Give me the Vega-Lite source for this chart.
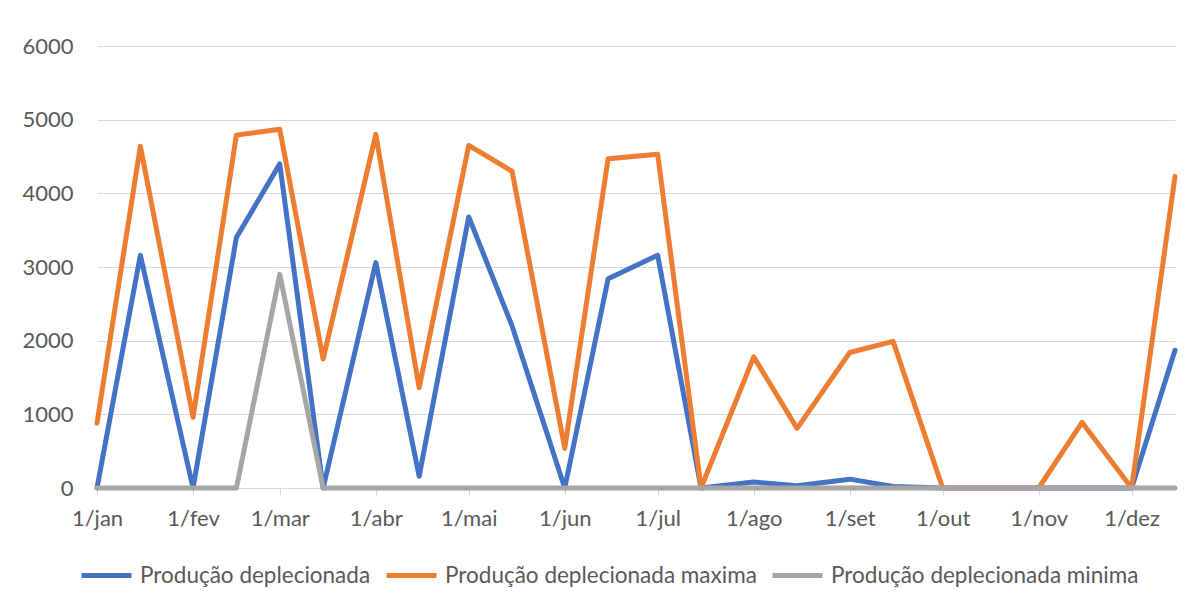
{
  "$schema": "https://vega.github.io/schema/vega-lite/v6.json",
  "autosize": {"type": "none"},
  "width": 1078,
  "height": 442,
  "padding": {"left": 97, "top": 46, "right": 16, "bottom": 113},
  "background": "white",
  "config": {
    "view": {"stroke": null},
    "font": "Lato",
    "axis": {"labelFont": "Lato", "labelFontSize": 22, "labelColor": "#595959"},
    "legend": {"labelFont": "Lato", "labelFontSize": 22.5, "labelColor": "#595959", "labelLimit": 0}
  },
  "data": {
    "values": [
      {"date": "2021-01-01", "serie": "Produção deplecionada", "valor": 0},
      {"date": "2021-01-15", "serie": "Produção deplecionada", "valor": 3160},
      {"date": "2021-02-01", "serie": "Produção deplecionada", "valor": 0},
      {"date": "2021-02-15", "serie": "Produção deplecionada", "valor": 3400},
      {"date": "2021-03-01", "serie": "Produção deplecionada", "valor": 4400},
      {"date": "2021-03-15", "serie": "Produção deplecionada", "valor": 0},
      {"date": "2021-04-01", "serie": "Produção deplecionada", "valor": 3060},
      {"date": "2021-04-15", "serie": "Produção deplecionada", "valor": 160},
      {"date": "2021-05-01", "serie": "Produção deplecionada", "valor": 3680},
      {"date": "2021-05-15", "serie": "Produção deplecionada", "valor": 2200},
      {"date": "2021-06-01", "serie": "Produção deplecionada", "valor": 0},
      {"date": "2021-06-15", "serie": "Produção deplecionada", "valor": 2840},
      {"date": "2021-07-01", "serie": "Produção deplecionada", "valor": 3160},
      {"date": "2021-07-15", "serie": "Produção deplecionada", "valor": 0},
      {"date": "2021-08-01", "serie": "Produção deplecionada", "valor": 80},
      {"date": "2021-08-15", "serie": "Produção deplecionada", "valor": 30},
      {"date": "2021-09-01", "serie": "Produção deplecionada", "valor": 120},
      {"date": "2021-09-15", "serie": "Produção deplecionada", "valor": 20},
      {"date": "2021-10-01", "serie": "Produção deplecionada", "valor": 0},
      {"date": "2021-10-15", "serie": "Produção deplecionada", "valor": 0},
      {"date": "2021-11-01", "serie": "Produção deplecionada", "valor": 0},
      {"date": "2021-11-15", "serie": "Produção deplecionada", "valor": 0},
      {"date": "2021-12-01", "serie": "Produção deplecionada", "valor": 0},
      {"date": "2021-12-15", "serie": "Produção deplecionada", "valor": 1870},
      {"date": "2021-01-01", "serie": "Produção deplecionada maxima", "valor": 880},
      {"date": "2021-01-15", "serie": "Produção deplecionada maxima", "valor": 4640},
      {"date": "2021-02-01", "serie": "Produção deplecionada maxima", "valor": 960},
      {"date": "2021-02-15", "serie": "Produção deplecionada maxima", "valor": 4790},
      {"date": "2021-03-01", "serie": "Produção deplecionada maxima", "valor": 4870},
      {"date": "2021-03-15", "serie": "Produção deplecionada maxima", "valor": 1750},
      {"date": "2021-04-01", "serie": "Produção deplecionada maxima", "valor": 4800},
      {"date": "2021-04-15", "serie": "Produção deplecionada maxima", "valor": 1360},
      {"date": "2021-05-01", "serie": "Produção deplecionada maxima", "valor": 4650},
      {"date": "2021-05-15", "serie": "Produção deplecionada maxima", "valor": 4300},
      {"date": "2021-06-01", "serie": "Produção deplecionada maxima", "valor": 540},
      {"date": "2021-06-15", "serie": "Produção deplecionada maxima", "valor": 4470},
      {"date": "2021-07-01", "serie": "Produção deplecionada maxima", "valor": 4530},
      {"date": "2021-07-15", "serie": "Produção deplecionada maxima", "valor": 0},
      {"date": "2021-08-01", "serie": "Produção deplecionada maxima", "valor": 1780},
      {"date": "2021-08-15", "serie": "Produção deplecionada maxima", "valor": 810},
      {"date": "2021-09-01", "serie": "Produção deplecionada maxima", "valor": 1840},
      {"date": "2021-09-15", "serie": "Produção deplecionada maxima", "valor": 1990},
      {"date": "2021-10-01", "serie": "Produção deplecionada maxima", "valor": 0},
      {"date": "2021-10-15", "serie": "Produção deplecionada maxima", "valor": 0},
      {"date": "2021-11-01", "serie": "Produção deplecionada maxima", "valor": 0},
      {"date": "2021-11-15", "serie": "Produção deplecionada maxima", "valor": 890},
      {"date": "2021-12-01", "serie": "Produção deplecionada maxima", "valor": 0},
      {"date": "2021-12-15", "serie": "Produção deplecionada maxima", "valor": 4230},
      {"date": "2021-01-01", "serie": "Produção deplecionada minima", "valor": 0},
      {"date": "2021-01-15", "serie": "Produção deplecionada minima", "valor": 0},
      {"date": "2021-02-01", "serie": "Produção deplecionada minima", "valor": 0},
      {"date": "2021-02-15", "serie": "Produção deplecionada minima", "valor": 0},
      {"date": "2021-03-01", "serie": "Produção deplecionada minima", "valor": 2900},
      {"date": "2021-03-15", "serie": "Produção deplecionada minima", "valor": 0},
      {"date": "2021-04-01", "serie": "Produção deplecionada minima", "valor": 0},
      {"date": "2021-04-15", "serie": "Produção deplecionada minima", "valor": 0},
      {"date": "2021-05-01", "serie": "Produção deplecionada minima", "valor": 0},
      {"date": "2021-05-15", "serie": "Produção deplecionada minima", "valor": 0},
      {"date": "2021-06-01", "serie": "Produção deplecionada minima", "valor": 0},
      {"date": "2021-06-15", "serie": "Produção deplecionada minima", "valor": 0},
      {"date": "2021-07-01", "serie": "Produção deplecionada minima", "valor": 0},
      {"date": "2021-07-15", "serie": "Produção deplecionada minima", "valor": 0},
      {"date": "2021-08-01", "serie": "Produção deplecionada minima", "valor": 0},
      {"date": "2021-08-15", "serie": "Produção deplecionada minima", "valor": 0},
      {"date": "2021-09-01", "serie": "Produção deplecionada minima", "valor": 0},
      {"date": "2021-09-15", "serie": "Produção deplecionada minima", "valor": 0},
      {"date": "2021-10-01", "serie": "Produção deplecionada minima", "valor": 0},
      {"date": "2021-10-15", "serie": "Produção deplecionada minima", "valor": 0},
      {"date": "2021-11-01", "serie": "Produção deplecionada minima", "valor": 0},
      {"date": "2021-11-15", "serie": "Produção deplecionada minima", "valor": 0},
      {"date": "2021-12-01", "serie": "Produção deplecionada minima", "valor": 0},
      {"date": "2021-12-15", "serie": "Produção deplecionada minima", "valor": 0}
    ]
  },
  "mark": {"type": "line", "strokeWidth": 5, "strokeCap": "round", "strokeJoin": "round"},
  "encoding": {
    "x": {
      "field": "date",
      "type": "temporal",
      "title": null,
      "scale": {"type": "utc", "nice": false},
      "axis": {
        "tickCount": {"interval": "month", "step": 1},
        "labelExpr": "'1/' + ['jan','fev','mar','abr','mai','jun','jul','ago','set','out','nov','dez'][utcmonth(datum.value)]",
        "grid": false,
        "domainColor": "#D9D9D9",
        "tickColor": "#D9D9D9",
        "tickSize": 7,
        "labelPadding": 13,
        "labelAlign": "center",
        "labelFlush": false,
        "labelOverlap": false
      }
    },
    "y": {
      "field": "valor",
      "type": "quantitative",
      "title": null,
      "scale": {"domain": [0, 6000], "nice": false},
      "axis": {
        "values": [0, 1000, 2000, 3000, 4000, 5000, 6000],
        "format": "d",
        "domain": false,
        "ticks": false,
        "gridColor": "#D9D9D9",
        "labelPadding": 24
      }
    },
    "color": {
      "field": "serie",
      "type": "nominal",
      "title": null,
      "scale": {
        "domain": ["Produção deplecionada", "Produção deplecionada maxima", "Produção deplecionada minima"],
        "range": ["#4472C4", "#ED7D31", "#A5A5A5"]
      },
      "legend": {
        "orient": "none",
        "direction": "horizontal",
        "legendX": -18,
        "legendY": 502,
        "symbolType": "stroke",
        "symbolSize": 2500,
        "symbolStrokeWidth": 5,
        "labelOffset": 6,
        "columnPadding": 5
      }
    }
  }
}
